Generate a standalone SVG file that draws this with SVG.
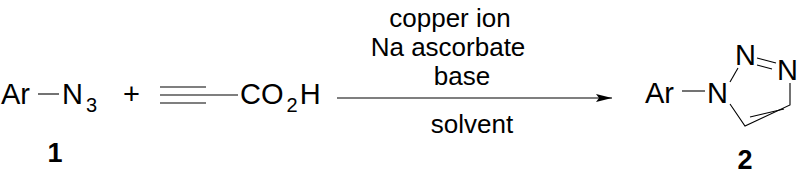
<svg xmlns="http://www.w3.org/2000/svg" width="800" height="175" viewBox="0 0 800 175">
<defs>
<style>
text{font-family:"Liberation Sans",Arial,sans-serif;fill:#000}
.t{font-size:29px}
.c{font-size:26px;text-anchor:middle}
.s{font-size:20px}
.b{font-size:27px;font-weight:bold;text-anchor:middle}
line,polyline,path{stroke:#000;stroke-width:1.1;fill:none}
</style>
<marker id="ah" viewBox="0 0 16 8" refX="16" refY="4" markerWidth="16" markerHeight="8" markerUnits="userSpaceOnUse" orient="auto">
<path d="M0,0 L16,4 L0,8 L3,4 Z" style="fill:#000;stroke:none"/>
</marker>
</defs>
<g id="azide">
<text class="t" x="1" y="104">Ar</text>
<line x1="38" y1="94" x2="59" y2="94"/>
<text class="t" x="62" y="104">N<tspan class="s" dx="3" dy="8">3</tspan></text>
<text class="b" x="55" y="162">1</text>
</g>
<g id="plus">
<text class="t" x="123" y="104">+</text>
</g>
<g id="alkyne">
<line x1="160" y1="87" x2="206" y2="87"/>
<line x1="160" y1="95" x2="238" y2="95"/>
<line x1="160" y1="103" x2="206" y2="103"/>
<text class="t" x="240" y="104">CO<tspan class="s" dx="3" dy="8">2</tspan><tspan dx="2" dy="-8">H</tspan></text>
</g>
<g id="conditions">
<text class="c" x="450" y="27">copper ion</text>
<text class="c" x="448" y="56">Na ascorbate</text>
<text class="c" x="462" y="85">base</text>
<text class="c" x="472" y="133">solvent</text>
</g>
<g id="connectors">
<line x1="337" y1="98" x2="612" y2="98" marker-end="url(#ah)"/>
</g>
<g id="triazole">
<text class="t" x="645" y="103">Ar</text>
<line x1="682" y1="91" x2="705" y2="91"/>
<text class="t" x="707" y="103">N</text>
<text class="t" x="735" y="65">N</text>
<text class="t" x="777" y="80">N</text>
<line x1="730" y1="82" x2="738" y2="68"/>
<line x1="757" y1="58" x2="776" y2="63"/>
<line x1="757" y1="65" x2="772" y2="69"/>
<polyline points="790,83 790,105 745,126 730,104"/>
<line x1="784" y1="109" x2="750" y2="117"/>
<text class="b" x="745" y="169">2</text>
</g>
</svg>
